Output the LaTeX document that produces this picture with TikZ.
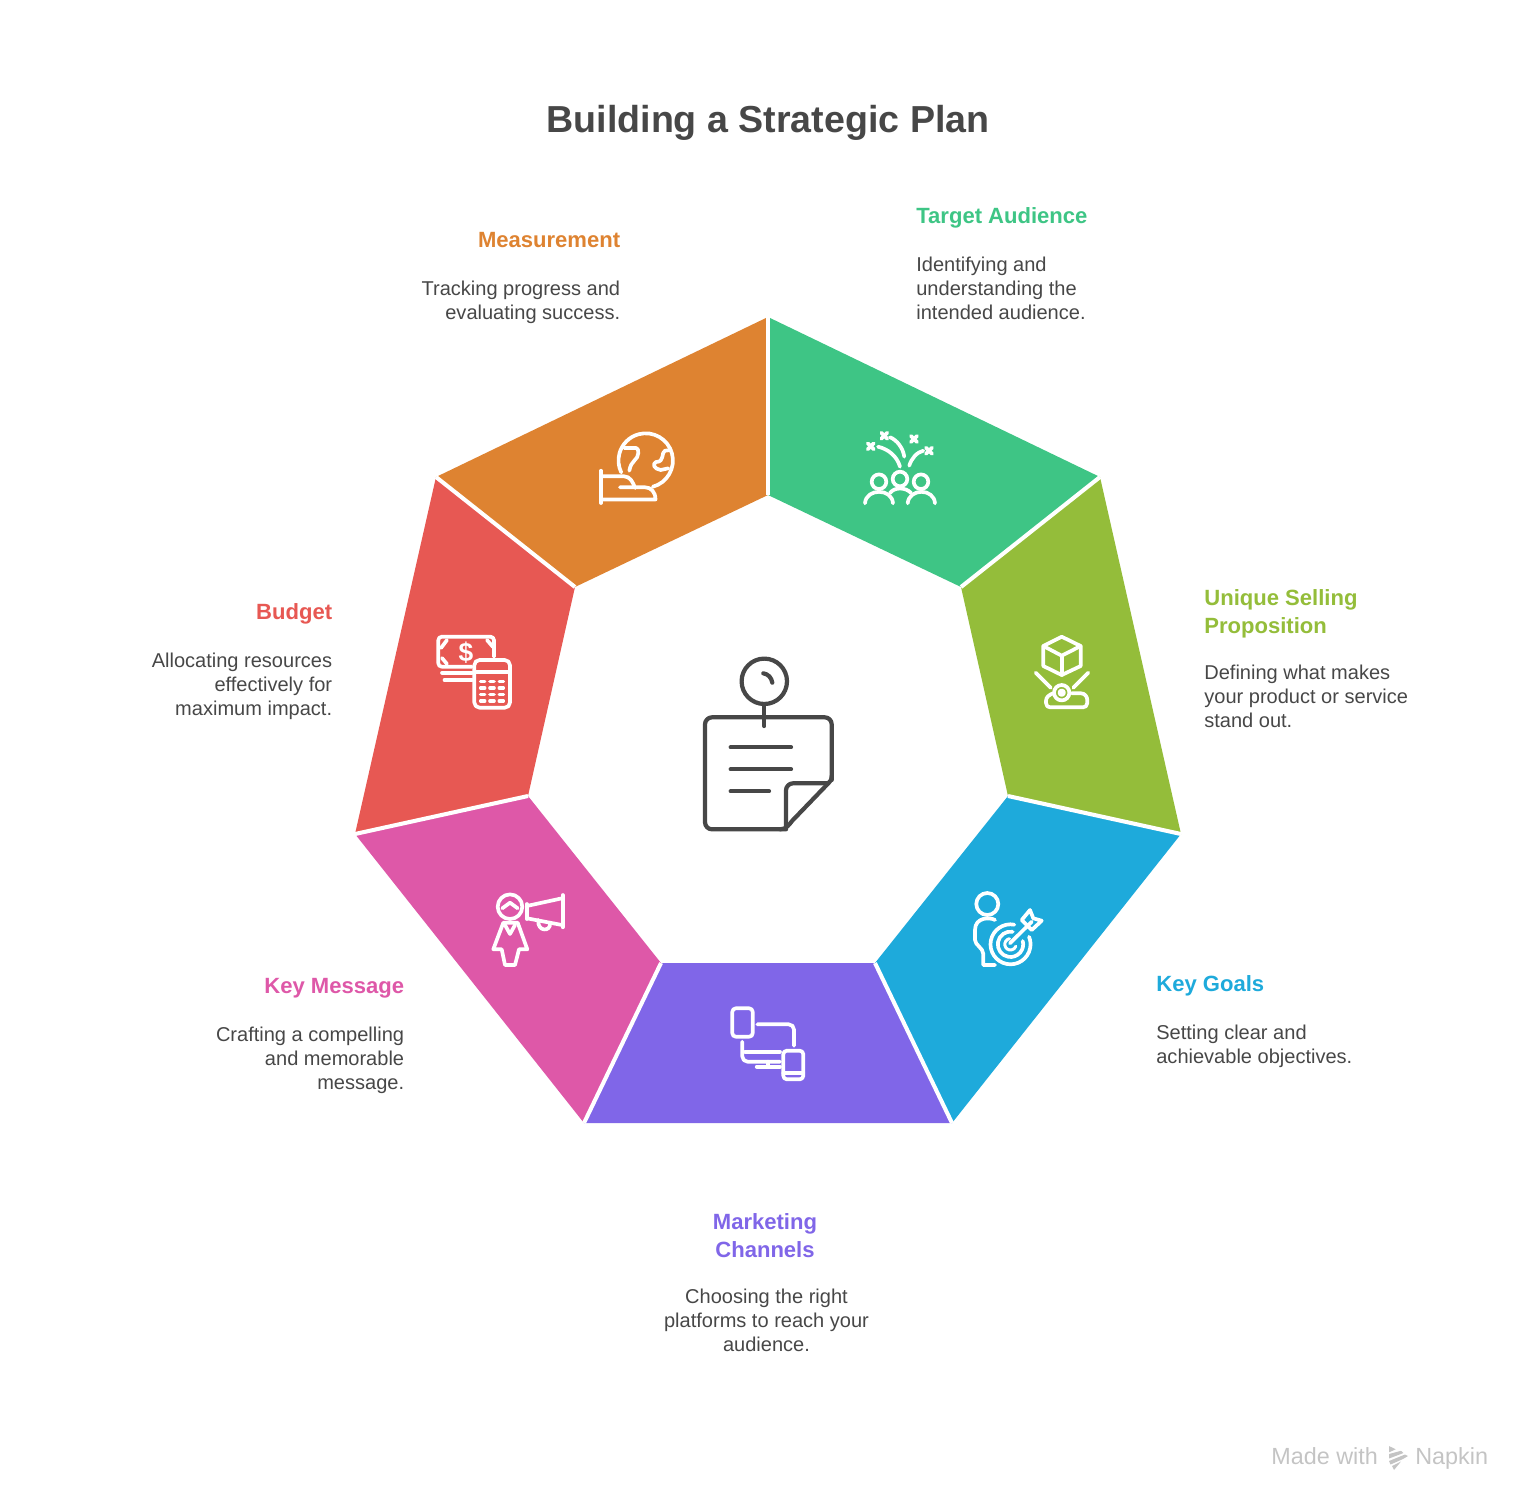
\documentclass[tikz,border=0pt]{standalone}
\usepackage{fontspec}
\setmainfont{Liberation Sans}
\usetikzlibrary{positioning}
\definecolor{inkgray}{HTML}{474747}
\definecolor{markgray}{HTML}{C4C4C4}
\definecolor{cTarget}{HTML}{3EC585}
\definecolor{cSelling}{HTML}{94BD3A}
\definecolor{cGoals}{HTML}{1EAADB}
\definecolor{cChannels}{HTML}{8066E8}
\definecolor{cMessage}{HTML}{DE58A8}
\definecolor{cBudget}{HTML}{E75853}
\definecolor{cMeasure}{HTML}{DE8331}
\tikzset{
  titlelbl/.style ={font=\fontsize{21.4}{28}\selectfont\bfseries,text=inkgray,inner sep=0pt},
  headlbl/.style  ={font=\fontsize{12.55}{15.93}\selectfont\bfseries,inner sep=0pt,
                     execute at begin node=\strut},
  desclbl/.style  ={font=\fontsize{11.4}{13.66}\selectfont,text=inkgray,inner sep=0pt,
                     execute at begin node=\strut},
  marklbl/.style  ={font=\fontsize{13.3}{15}\selectfont,text=markgray,inner sep=0pt},
  gapline/.style  ={draw=white,line width=2.3pt},
  iconline/.style ={draw=white,line width=2.1pt,line cap=round,line join=round},
  noteline/.style ={draw=inkgray,line width=2.4pt,line cap=round,line join=round},
}
\begin{document}
\begin{tikzpicture}[x=0.02cm,y=-0.02cm]
\useasboundingbox (0,0) rectangle (1536,1512);
% ---- ring corners ----
\coordinate (o1) at (768,317);
\coordinate (o2) at (1100,477);
\coordinate (o3) at (1181,834);
\coordinate (o4) at (952,1123);
\coordinate (o5) at (584,1123);
\coordinate (o6) at (355,834);
\coordinate (o7) at (436,477);
\coordinate (i1) at (768,495);
\coordinate (i2) at (961,587);
\coordinate (i3) at (1008,796);
\coordinate (i4) at (875,963);
\coordinate (i5) at (661,963);
\coordinate (i6) at (528,796);
\coordinate (i7) at (575,587);
% ---- ring segments ----
\foreach \a/\b/\c in {1/2/cTarget,2/3/cSelling,3/4/cGoals,4/5/cChannels,5/6/cMessage,6/7/cBudget,7/1/cMeasure}
  \fill[\c] (o\a) -- (o\b) -- (i\b) -- (i\a) -- cycle;
\foreach \a in {1,...,7} \draw[gapline] (o\a) -- (i\a);
% ---- title ----
\node[titlelbl] (title) at (768,123) {Building a Strategic Plan};
% ---- right side labels ----
\node[headlbl,text=cTarget,anchor=north west] (targetH) at (916,204) {Target Audience};
\node[desclbl,anchor=north west,align=left] (targetD) at (916,257) {Identifying and\\understanding the\\intended audience.};
\node[headlbl,text=cSelling,anchor=north west,align=left] (sellingH) at (1204,589) {Unique Selling\\Proposition};
\node[desclbl,anchor=north west,align=left] (sellingD) at (1204,665) {Defining what makes\\your product or service\\stand out.};
\node[headlbl,text=cGoals,anchor=north west] (goalsH) at (1156,972) {Key Goals};
\node[desclbl,anchor=north west,align=left] (goalsD) at (1156,1025) {Setting clear and\\achievable objectives.};
% ---- bottom label ----
\node[headlbl,text=cChannels,anchor=north,align=center] (channelsH) at (765,1213) {Marketing\\Channels};
\node[desclbl,anchor=north,align=center] (channelsD) at (766.5,1289) {Choosing the right\\platforms to reach your\\audience.};
% ---- left side labels ----
\node[headlbl,text=cMessage,anchor=north east] (messageH) at (404.5,974) {Key Message};
\node[desclbl,anchor=north east,align=right] (messageD) at (404.5,1027) {Crafting a compelling\\and memorable\\message.};
\node[headlbl,text=cBudget,anchor=north east] (budgetH) at (332.5,600) {Budget};
\node[desclbl,anchor=north east,align=right] (budgetD) at (332.5,653) {Allocating resources\\effectively for\\maximum impact.};
\node[headlbl,text=cMeasure,anchor=north east] (measureH) at (620.5,228) {Measurement};
\node[desclbl,anchor=north east,align=right] (measureD) at (620.5,281) {Tracking progress and\\evaluating success.};
% ---- centre note ----
\draw[noteline] (764.3,681.3) circle (22.7);
\draw[noteline] (763.3,673.3) .. controls (768,674) and (771.5,677.5) .. (772.3,682.7);
\draw[noteline] (764.3,704) -- (764.3,726);
\draw[noteline,rounded corners=4pt] (786,829.3) -- (705,829.3) -- (705,717.3) -- (831.7,717.3) -- (831.7,780);
\draw[noteline] (831.7,776) .. controls (831.7,780) and (830,781.5) .. (828.3,783.3) -- (792,821) .. controls (789,825) and (786,829.3) .. (780,829.3);
\draw[noteline,rounded corners=4pt] (786,826) -- (786,783.3) -- (828.3,783.3);
\foreach \y/\xe in {747.3/791,769.3/791,791.3/769} \draw[noteline] (730.7,\y) -- (\xe,\y);
% ---- crowd icon ----
\foreach \x/\y in {879/481.7,900/479,921/481.7} \draw[iconline] (\x,\y) circle (7.3);
\draw[iconline] (865,503.3) .. controls (866,488) and (892,488) .. (893,503.3);
\draw[iconline] (907.7,503.3) .. controls (909,488) and (934,488) .. (935,503.3);
\draw[iconline] (890,493) .. controls (894,487) and (906,487) .. (911,493);
\draw[iconline] (878,446.7) .. controls (888,449) and (897,456) .. (900,466.7);
\draw[iconline] (890,437.3) .. controls (897,440) and (903,448) .. (904.3,456.7);
\draw[iconline] (923.3,450.7) .. controls (917,452) and (911,459) .. (909.3,465.7);
\foreach \x/\y in {870.7/446.3,884.3/435.7,914/439,929/450.7} {
  \draw[iconline] (\x-3,\y-3) -- (\x+3,\y+3);
  \draw[iconline] (\x-3,\y+3) -- (\x+3,\y-3);
}
% ---- cube icon ----
\draw[iconline] (1061.7,636.7) -- (1080.7,646) -- (1080.7,666) -- (1061.7,675) -- (1043.3,666) -- (1043.3,646) -- cycle;
\draw[iconline] (1043.3,646) -- (1061.7,655.7) -- (1080.7,646);
\draw[iconline] (1061.7,655.7) -- (1061.7,675);
\draw[iconline] (1035.7,672.7) -- (1050.7,687.7);
\draw[iconline] (1088.3,672.7) -- (1073.3,687.7);
\draw[iconline] (1061.7,692.7) circle (7.7);
\draw[iconline] (1061.7,692.7) circle (2.2);
\draw[iconline] (1071.7,693.3) -- (1081,693.3) .. controls (1085,693.3) and (1087.3,697) .. (1087.3,700) -- (1087.3,703) .. controls (1087.3,706) and (1085,707.3) .. (1083,707.3) -- (1050,707.3) .. controls (1048,707.3) and (1046,706) .. (1046,703) -- (1046,701) .. controls (1046,697) and (1049,695) .. (1053,693.3);
% ---- target icon ----
\draw[iconline] (987.3,904) circle (11);
\draw[iconline] (995,920) .. controls (990,917) and (975,917) .. (975,930) -- (975,940) .. controls (975,945) and (983.3,948) .. (983.3,954) -- (983.3,965) -- (995,965);
\draw[iconline] (1010.5,944.3) ++(-79:20) arc (-79:-382:20);
\draw[iconline] (1010.5,944.3) ++(-80:12.7) arc (-80:-375:12.7);
\draw[iconline,line width=1.7pt] (1010.5,944.3) ++(-100:5.7) arc (-100:-340:5.7);
\draw[iconline] (1010,943.3) -- (1031.7,921.7);
\draw[iconline] (1021.7,920) -- (1030,910) -- (1033.3,918.3) -- (1041.7,920.7) -- (1031.7,930) -- cycle;
% ---- devices icon ----
\draw[iconline,rounded corners=2pt] (732.3,1008.3) rectangle (752.7,1036.7);
\draw[iconline,rounded corners=3pt] (757.3,1024.3) -- (794,1024.3) -- (794,1045.7);
\draw[iconline,rounded corners=3pt] (742.3,1041.7) -- (742.3,1061.7) -- (780,1061.7);
\draw[iconline] (745,1051.7) -- (780,1051.7);
\draw[iconline] (767.7,1061.7) -- (767.7,1066.7);
\draw[iconline] (756.7,1066.7) -- (780,1066.7);
\draw[iconline,rounded corners=2pt] (783.3,1050.7) rectangle (803.3,1079.3);
\draw[iconline] (783.3,1073.3) -- (803.3,1073.3);
% ---- megaphone icon ----
\draw[iconline] (510,906.7) circle (12.3);
\draw[iconline] (502.3,908.3) -- (510,902.7) -- (517.7,908.3);
\draw[iconline] (503.3,922.7) -- (493.3,949.3) -- (501.7,949.3) -- (505,965) -- (515,965) -- (519,949.3) -- (527.3,949.3) -- (517.7,922.7) -- cycle;
\draw[iconline] (505,925) -- (510,934) -- (515,925);
\draw[iconline] (562.7,895) -- (562.7,927.3);
\draw[iconline] (526.7,904) -- (526.7,919);
\draw[iconline] (526.7,906) -- (562,898.3);
\draw[iconline] (527,918.3) -- (562,925);
\draw[iconline] (538.3,920) .. controls (537,932) and (551,932) .. (550,923.3);
% ---- money icon ----
\draw[iconline,rounded corners=2pt] (471.7,666.7) -- (438.3,666.7) -- (438.3,636.7) -- (494,636.7) -- (494,656.7);
\draw[iconline] (447,640) -- (441,648);
\draw[iconline] (487,640) -- (493,647);
\draw[iconline] (442,658) -- (447,664);
\draw[iconline] (442,672.7) -- (472,672.7);
\draw[iconline] (444.5,680) -- (472,680);
\node[font=\fontsize{15}{15}\selectfont\bfseries,text=white,inner sep=0pt] (dollar) at (466,652.3) {\$};
\draw[iconline,rounded corners=3pt] (474.3,660) rectangle (510,707.7);
\draw[iconline] (474.3,671.7) -- (510,671.7);
\foreach \x in {482.7,492,501.3} \foreach \y in {681.5,688,694.5,701}
  \draw[iconline,line width=1.8pt] (\x-2.2,\y) -- (\x+2.2,\y);
% ---- globe icon ----
\draw[iconline] (645.7,460.5) ++(75:27.2) arc (75:-206:27.2);
\draw[iconline] (624.3,448) -- (636,448) .. controls (638,448) and (638.3,450) .. (638.3,453) .. controls (638.3,460) and (631,460) .. (629.3,470.7);
\draw[iconline] (670.7,450) -- (665,450.7) .. controls (661,452) and (665,462) .. (656,462) .. controls (652,464) and (654,469) .. (660.7,470) -- (668.3,468.3);
\draw[iconline] (601,470.7) -- (601,503);
\draw[iconline] (601,476.3) -- (624,476.3) .. controls (630,476.3) and (633,482) .. (635,488);
\draw[iconline] (620,487.3) -- (645,487.3) .. controls (651,487.3) and (655.5,492) .. (655.5,499.5) -- (601,499.5);
% ---- watermark ----
\node[marklbl,anchor=base west] (madeWith) at (1271,1464) {Made with};
\node[marklbl,anchor=base west] (napkin) at (1415,1464) {Napkin};
\fill[markgray] (1389,1446) -- (1395.7,1449.3) -- (1389,1452.3) -- cycle;
\fill[markgray] (1389,1454) -- (1401,1450.8) -- (1403.5,1453) -- (1389,1458.5) -- cycle;
\fill[markgray] (1389,1461) -- (1405,1454.5) -- (1408,1456) -- (1403,1459) -- (1390.5,1464.5) -- cycle;
\fill[markgray] (1392,1466) -- (1401,1461.5) -- (1394,1470) -- cycle;
\end{tikzpicture}
\end{document}
